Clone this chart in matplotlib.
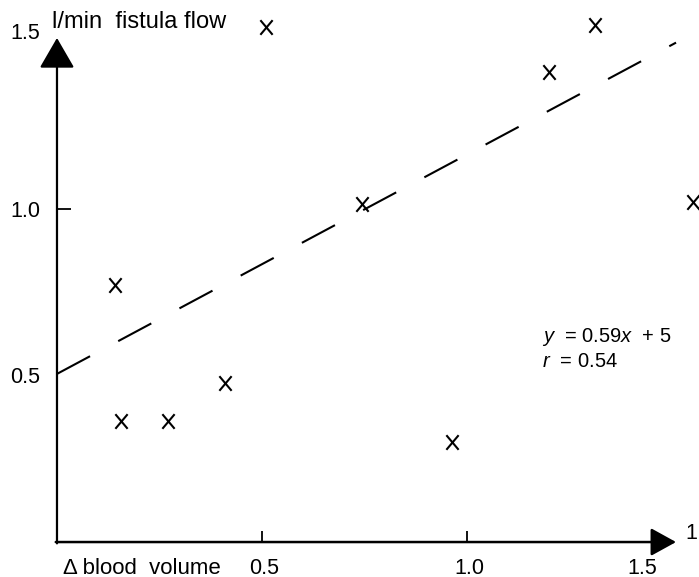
import matplotlib
matplotlib.use("Agg")
import matplotlib.pyplot as plt
from matplotlib.path import Path
from matplotlib.transforms import offset_copy

plt.rcParams["font.family"] = ["Liberation Sans", "DejaVu Sans"]
plt.rcParams["mathtext.fontset"] = "custom"
plt.rcParams["mathtext.rm"] = "Liberation Sans"
plt.rcParams["mathtext.it"] = "Liberation Sans:italic"
plt.rcParams["lines.scale_dashes"] = False

# measurements: change in blood volume vs fistula flow (l/min)
blood_volume = [0.141, 0.410, 0.156, 0.271, 0.744, 0.963, 1.312, 1.200, 1.552, 0.510]
fistula_flow = [0.772, 0.477, 0.363, 0.363, 1.015, 0.300, 1.553, 1.411, 1.021, 1.547]

# regression line end points
fit_x = [0.0, 1.51]
fit_y = [0.505, 1.50]

x_ticks = [0.5, 1.0, 1.5]
x_tick_labels = ["0.5", "1.0", "1.5"]
y_ticks = [0.5, 1.0, 1.5]
y_tick_labels = ["0.5", "1.0", "1.5"]

# slightly tall, thin "X" cross used as the point marker
cross = Path([(-0.42, -0.5), (0.42, 0.5), (-0.42, 0.5), (0.42, -0.5)],
             [Path.MOVETO, Path.LINETO, Path.MOVETO, Path.LINETO])

fig = plt.figure(figsize=(6.99, 5.77), dpi=100)
ax = fig.add_axes([0, 0, 1, 1])
ax.set_xlim(-0.139, 1.566)
ax.set_ylim(-0.105, 1.628)
ax.set_facecolor("white")

for side in ("top", "right"):
    ax.spines[side].set_visible(False)
ax.spines["left"].set_position(("data", 0))
ax.spines["bottom"].set_position(("data", 0))
ax.spines["left"].set_visible(False)
ax.spines["bottom"].set_visible(False)

# axes drawn as arrows
ax.annotate("", xy=(1.51, 0), xytext=(-0.003, 0),
            arrowprops=dict(arrowstyle="-|>,head_length=0.78,head_width=0.43",
                            lw=1.8, color="black", shrinkA=0, shrinkB=0,
                            mutation_scale=20))
ax.annotate("", xy=(0, 1.514), xytext=(0, -0.004),
            arrowprops=dict(arrowstyle="-|>,head_length=0.95,head_width=0.55",
                            lw=1.6, color="black", shrinkA=0, shrinkB=0,
                            mutation_scale=20))

# inward tick marks
ax.set_xticks(x_ticks[:2])
ax.set_yticks(y_ticks[1:2])
ax.tick_params(axis="x", direction="in", length=8, width=1.3, labelbottom=False)
ax.tick_params(axis="y", direction="in", length=10, width=1.3, labelleft=False)

# tick labels
for v, s in zip(x_ticks, x_tick_labels):
    dx = -30 if v == 1.5 else 2
    tr = offset_copy(ax.transData, fig=fig, x=dx, y=0, units="dots")
    ax.text(v, -0.078, s, transform=tr, ha="center", va="center", fontsize=15.5)
for v, s in zip(y_ticks, y_tick_labels):
    dy = 9 if v == 1.5 else -2
    tr = offset_copy(ax.transData, fig=fig, x=0, y=dy, units="dots")
    ax.text(-0.041, v, s, transform=tr, ha="right", va="center", fontsize=15.5)

# axis titles
ax.text(-0.012, 1.562, "l/min  fistula flow", ha="left", va="center", fontsize=17)
ax.text(0.015, -0.078, "\u0394 blood  volume", ha="left", va="center", fontsize=16)
ax.text(1.532, 0.027, "1", ha="left", va="center", fontsize=15.5)

# regression line and data
ax.plot(fit_x, fit_y, color="black", lw=1.5, dashes=(27, 23), solid_capstyle="butt")
ax.plot(blood_volume, fistula_flow, linestyle="none", marker=cross,
        markersize=10.5, markeredgewidth=1.5, color="black")

ax.text(1.183, 0.616, r"$y$  = 0.59$x$  + 5", ha="left", va="center", fontsize=14.5)
ax.text(1.183, 0.541, r"$r$  = 0.54", ha="left", va="center", fontsize=14.5)

fig.savefig("out.png", dpi=100)
